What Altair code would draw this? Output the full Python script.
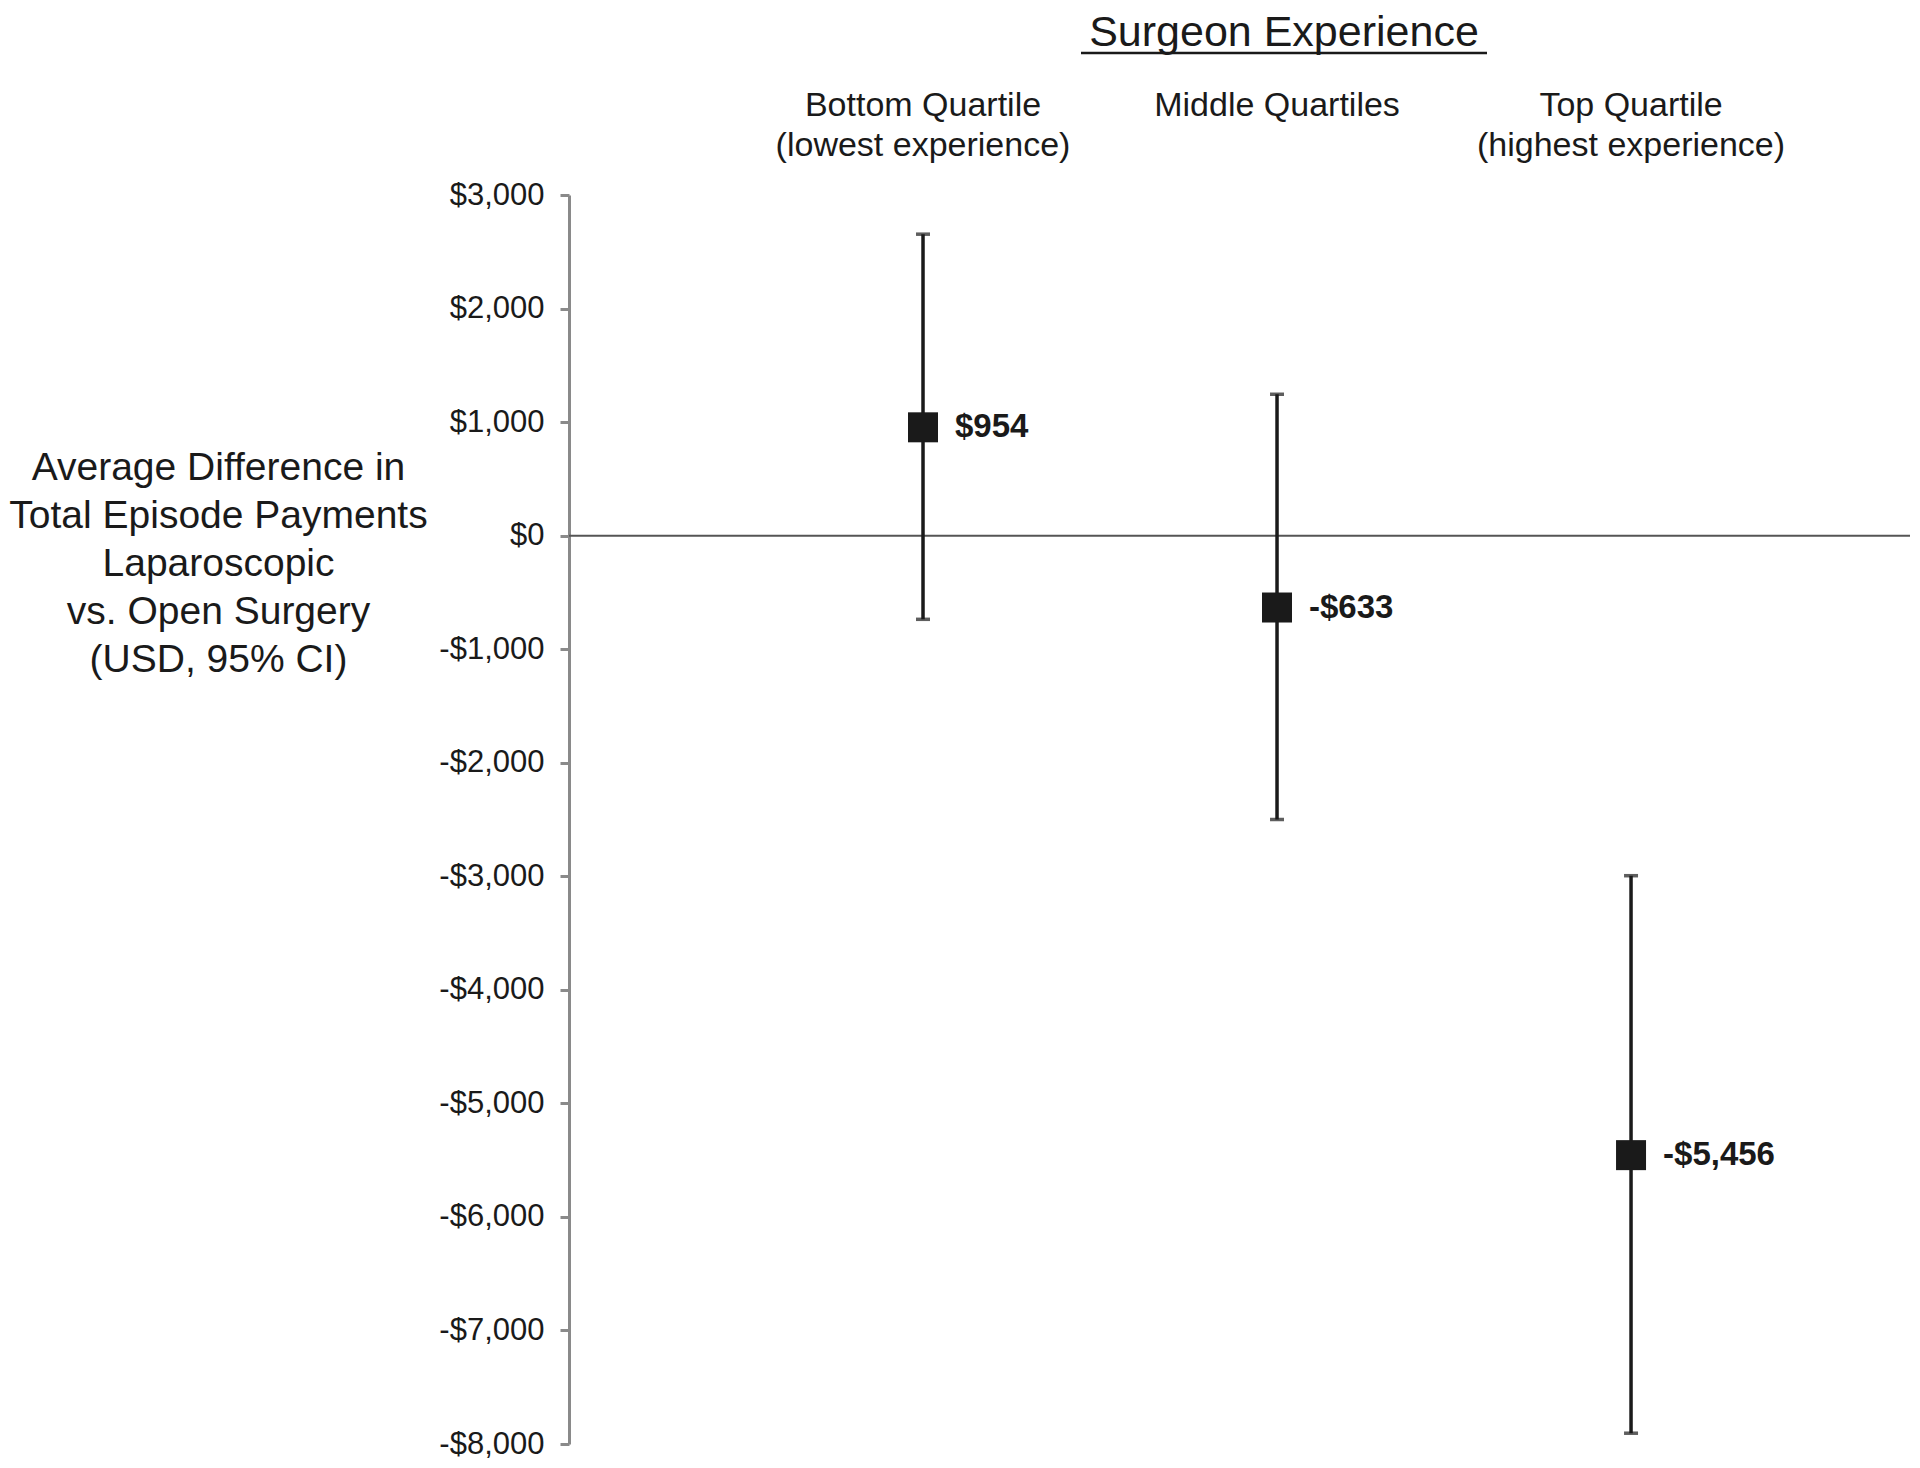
import altair as alt
import pandas as pd

# ---- data ----
headers = ["Bottom Quartile\n(lowest experience)", "Middle Quartiles", "Top Quartile\n(highest experience)"]
cat_pos = [1, 2, 3]
estimates = [954, -633, -5456]
ci_low = [-737, -2500, -7905]
ci_high = [2655, 1245, -2995]
point_labels = ["$954", "-$633", "-$5,456"]
y_ticks = [3000, 2000, 1000, 0, -1000, -2000, -3000, -4000, -5000, -6000, -7000, -8000]
y_title = ["Average Difference in", "Total Episode Payments", "Laparoscopic", "vs. Open Surgery", "(USD, 95% CI)"]
main_title = "Surgeon Experience"

df = pd.DataFrame({
    "header": headers,
    "pos": cat_pos,
    "est": estimates,
    "lo": ci_low,
    "hi": ci_high,
    "lab": point_labels,
})

FONT = "Liberation Sans"
INK = "#1a1a1a"
W, H = 1341, 1249

xs = alt.Scale(domain=[0, 3.788], nice=False, zero=False)
ys = alt.Scale(domain=[-8000, 3000], nice=False, zero=False)

base = alt.Chart(df)

x_enc = alt.X("pos:Q", scale=xs, axis=None)

yaxis = alt.Axis(
    values=y_ticks,
    labelExpr="(datum.value < 0 ? '-' : '') + '$' + format(abs(datum.value), ',')",
    labelFont=FONT, labelFontSize=31, labelColor=INK, labelPadding=16,
    tickSize=9, tickWidth=3, tickColor="#8a8a8a",
    domainColor="#8a8a8a", domainWidth=3,
    grid=False,
    title=y_title, titleAngle=0, titleAlign="center", titleBaseline="middle",
    titleX=-351, titleY=272, titleLineHeight=48, titleFont=FONT,
    titleFontSize=39, titleFontWeight="normal", titleColor=INK,
)

zero = alt.Chart(pd.DataFrame({"z": [0]})).mark_rule(color="#555555", strokeWidth=2).encode(
    y=alt.Y("z:Q", scale=ys, axis=yaxis)
)

whisker = base.mark_rule(color=INK, strokeWidth=3.5).encode(
    x=x_enc,
    y=alt.Y("lo:Q", scale=ys),
    y2="hi:Q",
)

cap_lo = base.mark_tick(orient="horizontal", color=INK, size=14, thickness=3.5).encode(
    x=x_enc, y=alt.Y("lo:Q", scale=ys)
)
cap_hi = base.mark_tick(orient="horizontal", color=INK, size=14, thickness=3.5).encode(
    x=x_enc, y=alt.Y("hi:Q", scale=ys)
)

points = base.mark_square(size=900, color=INK, opacity=1, filled=True).encode(
    x=x_enc, y=alt.Y("est:Q", scale=ys)
)

labels = base.mark_text(
    align="left", baseline="middle", dx=32, font=FONT, fontSize=33,
    fontWeight="bold", color=INK,
).encode(x=x_enc, y=alt.Y("est:Q", scale=ys), text="lab:N")

head = base.mark_text(
    align="center", baseline="middle", font=FONT, fontSize=34, color=INK,
    lineBreak="\n", lineHeight=40,
).encode(x=x_enc, y=alt.value(-89), text="header:N")

title_df = pd.DataFrame({"t": [main_title]})
title = alt.Chart(title_df).mark_text(
    align="center", baseline="alphabetic", font=FONT, fontSize=43, color=INK,
).encode(x=alt.value(715), y=alt.value(-149), text="t:N")

underline = alt.Chart(title_df).mark_rule(color=INK, strokeWidth=2.5).encode(
    x=alt.value(512), x2=alt.value(918), y=alt.value(-142)
)

chart = alt.layer(zero, whisker, cap_lo, cap_hi, points, labels, head, title, underline).properties(
    width=W, height=H,
    background="white",
    autosize=alt.AutoSizeParams(type="none"),
    padding={"left": 561, "top": 187, "right": 2, "bottom": 16},
).configure_view(stroke=None)

chart.save("out.html", embed_options={"renderer": "svg", "actions": False})
